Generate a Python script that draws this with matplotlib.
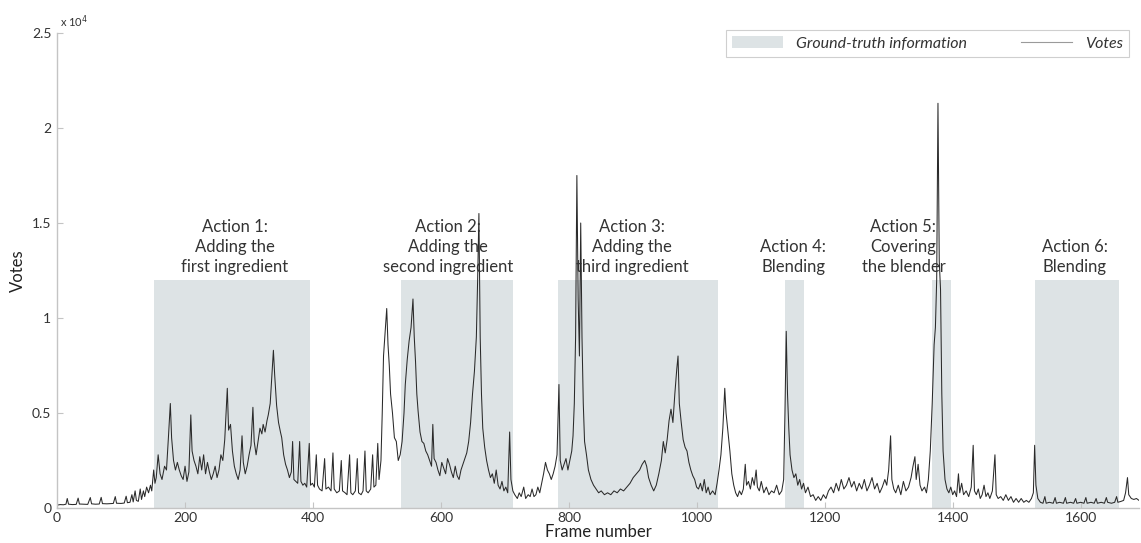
import numpy as np
import matplotlib
matplotlib.use("Agg")
import matplotlib.pyplot as plt
from matplotlib.patches import Patch
from matplotlib.lines import Line2D
from matplotlib.ticker import FuncFormatter

# vote counts per frame
frame = [
    0, 5, 10, 14, 16, 18, 24, 30, 33, 35,
    42, 48, 52, 54, 60, 66, 69, 71, 78, 84,
    88, 91, 93, 100, 105, 108, 110, 114, 117, 119,
    122, 124, 127, 130, 132, 135, 137, 140, 143, 146,
    148, 151, 153, 155, 158, 161, 164, 168, 171, 174,
    177, 179, 182, 185, 188, 191, 194, 197, 200, 203,
    206, 209, 211, 214, 217, 220, 223, 226, 229, 232,
    235, 238, 241, 244, 247, 250, 253, 256, 259, 262,
    266, 268, 271, 274, 277, 280, 283, 286, 289, 291,
    294, 297, 300, 303, 306, 308, 311, 314, 317, 320,
    322, 325, 328, 330, 333, 336, 338, 340, 343, 346,
    349, 351, 354, 357, 360, 363, 366, 368, 370, 373,
    376, 379, 381, 384, 387, 390, 394, 396, 399, 402,
    405, 407, 410, 414, 418, 420, 424, 428, 431, 433,
    437, 441, 444, 446, 450, 453, 457, 459, 462, 466,
    469, 471, 475, 478, 481, 483, 486, 490, 493, 495,
    498, 501, 503, 506, 508, 510, 513, 515, 517, 519,
    521, 524, 527, 530, 533, 536, 539, 542, 544, 547,
    550, 553, 556, 558, 560, 562, 564, 567, 570, 573,
    576, 579, 582, 585, 587, 589, 592, 595, 598, 601,
    604, 607, 610, 613, 616, 619, 622, 625, 628, 631,
    634, 637, 640, 643, 646, 649, 652, 655, 657, 659,
    661, 663, 665, 668, 671, 674, 677, 680, 683, 686,
    689, 692, 695, 698, 701, 704, 707, 709, 712, 715,
    719, 722, 725, 729, 732, 736, 739, 742, 745, 748,
    751, 754, 757, 760, 763, 766, 769, 772, 775, 778,
    781, 784, 786, 789, 792, 795, 798, 801, 804, 806,
    808, 810, 812, 814, 816, 818, 820, 822, 824, 827,
    830, 834, 838, 842, 846, 850, 855, 860, 865, 870,
    875, 880, 885, 890, 895, 900, 905, 910, 914, 918,
    921, 924, 928, 932, 936, 940, 944, 947, 950, 953,
    956, 959, 962, 965, 968, 970, 972, 975, 978, 981,
    984, 987, 990, 993, 996, 999, 1002, 1005, 1008, 1011,
    1014, 1017, 1020, 1024, 1028, 1031, 1034, 1037, 1040, 1043,
    1045, 1048, 1051, 1054, 1057, 1060, 1063, 1066, 1069, 1072,
    1075, 1077, 1080, 1083, 1086, 1089, 1092, 1094, 1097, 1100,
    1104, 1108, 1112, 1116, 1120, 1124, 1128, 1132, 1135, 1137,
    1139, 1141, 1143, 1145, 1148, 1151, 1154, 1157, 1160, 1163,
    1166, 1169, 1173, 1177, 1181, 1185, 1189, 1193, 1197, 1201,
    1205, 1209, 1213, 1217, 1221, 1225, 1229, 1233, 1237, 1241,
    1245, 1249, 1253, 1257, 1261, 1265, 1269, 1273, 1277, 1281,
    1285, 1289, 1293, 1296, 1299, 1302, 1304, 1307, 1310, 1314,
    1318, 1322, 1326, 1330, 1334, 1337, 1340, 1342, 1345, 1348,
    1351, 1355, 1358, 1361, 1364, 1367, 1370, 1372, 1374, 1376,
    1378, 1380, 1382, 1384, 1387, 1390, 1393, 1396, 1399, 1402,
    1405, 1408, 1410, 1413, 1416, 1420, 1424, 1428, 1431, 1433,
    1436, 1439, 1442, 1445, 1448, 1451, 1454, 1457, 1461, 1465,
    1467, 1470, 1474, 1478, 1482, 1486, 1490, 1494, 1498, 1502,
    1506, 1510, 1514, 1518, 1522, 1525, 1527, 1529, 1532, 1536,
    1540, 1543, 1545, 1550, 1556, 1559, 1561, 1566, 1572, 1575,
    1577, 1583, 1588, 1591, 1593, 1599, 1604, 1607, 1609, 1615,
    1620, 1623, 1625, 1631, 1636, 1639, 1641, 1647, 1652, 1655,
    1657, 1662, 1666, 1669, 1672, 1674, 1678, 1682, 1686, 1690,
]
votes = [
    150, 180, 170, 200, 500, 200, 180, 190, 520, 210,
    200, 190, 550, 220, 200, 210, 560, 230, 220, 230,
    240, 600, 250, 240, 260, 620, 280, 300, 700, 320,
    900, 400, 350, 1000, 450, 900, 600, 1100, 800, 1200,
    900, 2000, 1300, 1600, 2800, 1800, 1500, 2200, 2000, 3700,
    5500, 3700, 2500, 2000, 2400, 2000, 1700, 1500, 2200, 1400,
    1900, 4900, 3000, 2500, 2200, 1800, 2700, 2000, 2800, 1800,
    2400, 1900, 1500, 1800, 2200, 1600, 2000, 2800, 2500, 3600,
    6300, 4100, 4400, 3000, 2200, 1800, 1500, 2000, 3800, 2400,
    1800, 2200, 2800, 3300, 5300, 3500, 2800, 3500, 4200, 3900,
    4400, 4000, 4600, 4900, 5500, 7200, 8300, 7000, 5400, 4500,
    4000, 3700, 2800, 2300, 2000, 1600, 1900, 3500, 1500, 1400,
    1300, 3500, 1400, 1200, 1300, 1100, 3400, 1200, 1300, 1100,
    2800, 1200, 1000, 900, 2600, 1000, 1100, 900, 2900, 1000,
    800, 900, 2500, 900, 800, 700, 2800, 800, 700, 900,
    2600, 800, 700, 900, 3000, 900, 800, 1000, 2800, 1100,
    1200, 3400, 1500, 2500, 5000, 8000, 9500, 10500, 8600, 7500,
    6000, 5000, 3700, 3500, 2500, 2800, 3500, 5000, 6500, 7800,
    8800, 9500, 11000, 9000, 7700, 6000, 5100, 4000, 3500, 3400,
    3000, 2800, 2500, 2200, 4400, 2600, 2400, 2000, 1700, 2400,
    2100, 1800, 2600, 2300, 1900, 1600, 2200, 1700, 1500, 2000,
    2300, 2600, 2900, 3500, 4500, 6000, 7200, 9000, 12000, 15500,
    9000, 6000, 4200, 3200, 2500, 2000, 1600, 1800, 1300, 2000,
    1200, 1000, 1400, 900, 1100, 800, 4000, 1500, 900, 700,
    500, 800, 600, 1100, 500, 700, 600, 1000, 600, 700,
    1100, 800, 1300, 1800, 2400, 2000, 1800, 1500, 1800, 2200,
    2800, 6500, 2500, 2000, 2300, 2600, 2000, 2500, 3000, 3800,
    5500, 9000, 17500, 11000, 8000, 15000, 9000, 5500, 3500, 2800,
    2000, 1500, 1200, 1000, 800, 900, 700, 800, 700, 900,
    800, 1000, 900, 1100, 1300, 1600, 1800, 2000, 2300, 2500,
    2200, 1600, 1200, 900, 1200, 1800, 2500, 3500, 2900, 3600,
    4600, 5200, 4500, 6000, 7300, 8000, 5500, 4500, 3600, 3200,
    3000, 2400, 2000, 1700, 1500, 1100, 1000, 1300, 900, 1500,
    800, 1100, 700, 900, 700, 1300, 2000, 2800, 4200, 6300,
    5000, 4000, 3000, 1800, 1200, 800, 600, 900, 700, 1000,
    2300, 1200, 1400, 1000, 1600, 1200, 2000, 1100, 900, 1400,
    800, 1100, 700, 900, 800, 1200, 700, 900, 1500, 5000,
    9300, 6000, 4200, 2800, 2000, 1600, 1800, 1200, 1500, 1000,
    1300, 800, 1100, 600, 700, 400, 600, 400, 700, 500,
    900, 1100, 800, 1300, 900, 1500, 1000, 1200, 1600, 1100,
    1400, 900, 1300, 1000, 1500, 900, 1200, 1600, 1000, 1300,
    800, 1100, 1500, 1200, 2000, 3800, 1500, 1000, 800, 1200,
    700, 1400, 900, 1100, 1600, 2200, 2700, 1500, 2300, 1200,
    900, 1100, 800, 1500, 3000, 5500, 8600, 9500, 12000, 21300,
    13000, 11500, 6000, 3000, 1500, 1000, 800, 1100, 700, 900,
    600, 1800, 800, 1300, 700, 900, 600, 1100, 3300, 900,
    700, 1000, 500, 700, 1200, 600, 800, 500, 900, 2800,
    700, 500, 600, 400, 700, 400, 600, 300, 500, 300,
    500, 300, 400, 300, 500, 800, 3300, 1200, 500, 300,
    250, 600, 250, 300, 250, 550, 250, 300, 250, 550,
    250, 300, 250, 500, 250, 300, 250, 550, 250, 300,
    250, 500, 250, 300, 250, 550, 300, 250, 300, 600,
    300, 350, 400, 800, 1600, 700, 500, 450, 500, 400,
]

# ground-truth action intervals (start frame, end frame)
action_start = [151, 537, 783, 1137, 1366, 1527]
action_end = [395, 712, 1033, 1166, 1397, 1658]
action_top = 12000
action_text = [
    "Action 1:\nAdding the\nfirst ingredient",
    "Action 2:\nAdding the\nsecond ingredient",
    "Action 3:\nAdding the\nthird ingredient",
    "Action 4:\nBlending",
    "Action 5:\nCovering\nthe blender",
    "Action 6:\nBlending",
]
text_x = [278, 611, 898, 1150, 1322, 1590]

plt.rcParams["font.family"] = ["Lato", "DejaVu Sans"]

fig = plt.figure(figsize=(11.41, 5.43), dpi=100)
ax = fig.add_axes([57 / 1141, 1 - 508 / 543, 1082 / 1141, 475 / 543])

shade = "#dde3e5"
for s, e in zip(action_start, action_end):
    ax.fill_between([s, e], 0, action_top, color=shade, lw=0, zorder=0)

ax.plot(frame, votes, color="#2a2a2a", lw=0.75, zorder=2)

for x, t in zip(text_x, action_text):
    ax.text(x, action_top + 250, t, ha="center", va="bottom", fontsize=12,
            color="#333333", linespacing=1.3, zorder=3)

ax.set_xlim(0, 1690)
ax.set_ylim(0, 25000)
ax.set_xticks(np.arange(0, 1700, 200))
ax.set_yticks(np.arange(0, 25001, 5000))
ax.yaxis.set_major_formatter(FuncFormatter(lambda v, p: "%g" % (v / 1e4)))
fig.text(60 / 1141, 1 - 22 / 543, r"x 10$^4$", fontsize=8, color="#333333",
         va="center", ha="left")

for side in ["top", "right"]:
    ax.spines[side].set_visible(False)
for side in ["left", "bottom"]:
    ax.spines[side].set_color("#c4c4c4")
    ax.spines[side].set_linewidth(1.0)
ax.tick_params(direction="in", length=4, color="#c4c4c4", labelsize=10,
               labelcolor="#333333")
ax.tick_params(axis="x", pad=3)
ax.tick_params(axis="y", pad=4)

ax.set_xlabel("Frame number", fontsize=12, color="#222222", labelpad=0)
ax.set_ylabel("Votes", fontsize=12, color="#222222", labelpad=4)

handles = [Patch(facecolor=shade, edgecolor="none"),
           Line2D([], [], color="#9a9a9a", lw=0.8)]
leg = fig.legend(handles, ["Ground-truth information", "Votes"], ncol=2,
                 loc="center", mode="expand",
                 bbox_to_anchor=(718 / 1141, 1 - 60 / 543, 419 / 1141, 33 / 543),
                 frameon=True, fancybox=False, handlelength=3.2,
                 prop={"style": "italic", "size": 11.5})
leg.get_frame().set_edgecolor("#c4c4c4")
leg.get_frame().set_linewidth(0.8)
for t in leg.get_texts():
    t.set_color("#333333")

fig.savefig("out.png", dpi=100)
